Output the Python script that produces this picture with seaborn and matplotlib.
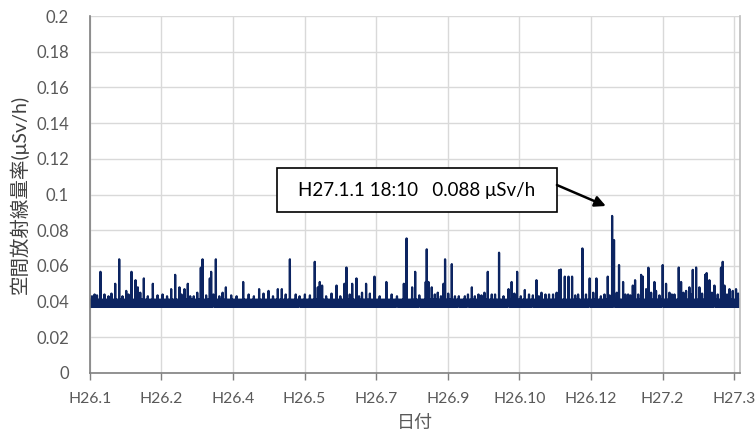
import numpy as np
import pandas as pd
import matplotlib
matplotlib.use('Agg')
import matplotlib.pyplot as plt
import matplotlib.patches as mpatches
import seaborn as sns

# 日付の範囲 (H26.1.1 ~ H27.3.31), 1時間ごと
start = pd.Timestamp('2014-01-01')
n_days = 454

# ふだんの値 (バンドの揺れ)
base_level = [0.039, 0.0405, 0.038, 0.040, 0.041, 0.0385, 0.0375, 0.040, 0.0405,
              0.038, 0.039, 0.041, 0.0395, 0.038, 0.037, 0.040, 0.0405]

# ピーク: H26.1.1 からの日数, 値
spike_day = [3.3, 7.4, 17.7, 20.5, 25.4, 29.1, 31.9, 33.5, 37.7, 44.0, 56.8, 59.6,
             62.6, 66.1, 68.4, 72.6, 77.5, 78.7, 83.8, 84.7, 88.0, 92.7, 95.0, 107.1,
             118.2, 124.8, 131.3, 134.1, 139.7, 143.8, 157.1, 159.2, 160.6, 162.2,
             172.3, 177.8, 179.2, 183.2, 186.2, 190.1, 192.9, 198.8, 207.1, 219.3,
             221.2, 225.1, 227.2, 234.6, 235.3, 236.5, 238.8, 243.0, 247.0, 248.1,
             252.8, 257.7, 261.9, 266.8, 271.4, 275.6, 277.9, 280.7, 285.8, 292.4,
             294.6, 298.4, 303.8, 311.9, 315.4, 320.7, 323.5, 327.7, 328.9, 331.7,
             334.3, 336.8, 341.0, 344.0, 349.1, 353.8, 361.7, 364.75, 366.1, 369.6,
             372.4, 375.9, 379.2, 380.8, 385.0, 386.2, 388.5, 390.1, 394.3, 395.4,
             400.1, 402.4, 404.8, 408.3, 411.3, 412.9, 416.4, 418.7, 421.1, 423.4,
             425.7, 429.7, 430.8, 432.7, 436.2, 438.5, 440.8, 442.0, 443.2, 446.7,
             449.0, 451.3]
spike_val = [0.044, 0.0567, 0.050, 0.0637, 0.046, 0.0567, 0.052, 0.048, 0.053, 0.050, 0.047, 0.055,
             0.048, 0.047, 0.050, 0.043, 0.059, 0.0637, 0.053, 0.0567, 0.0637, 0.045, 0.048, 0.051,
             0.047, 0.046, 0.047, 0.047, 0.0637, 0.044, 0.0623, 0.048, 0.051, 0.049,
             0.049, 0.050, 0.0591, 0.050, 0.053, 0.045, 0.050, 0.054, 0.051, 0.050,
             0.0754, 0.048, 0.0567, 0.051, 0.0693, 0.051, 0.048, 0.045, 0.050, 0.0637,
             0.061, 0.043, 0.043, 0.048, 0.044, 0.045, 0.0567, 0.044, 0.0674, 0.047,
             0.051, 0.0567, 0.0465, 0.052, 0.045, 0.044, 0.044, 0.0577, 0.058, 0.054,
             0.054, 0.054, 0.044, 0.0698, 0.053, 0.053, 0.054, 0.088, 0.0745, 0.0605,
             0.051, 0.044, 0.049, 0.052, 0.055, 0.054, 0.047, 0.059, 0.051, 0.046,
             0.0605, 0.050, 0.045, 0.044, 0.0591, 0.051, 0.046, 0.048, 0.0578, 0.0591,
             0.048, 0.055, 0.056, 0.052, 0.049, 0.044, 0.059, 0.0623, 0.049, 0.047,
             0.046, 0.047]

# 小さな上昇 (日数, 値)
bump_day = [1.5, 5.0, 10.2, 13.0, 15.1, 22.8, 27.0, 35.2, 40.5, 47.3, 50.8, 53.9,
            64.0, 70.1, 75.0, 81.2, 86.3, 90.4, 98.7, 102.5, 110.9, 114.6, 121.3,
            127.9, 136.8, 146.5, 150.2, 153.7, 165.0, 168.8, 174.9, 181.5, 188.0,
            195.6, 202.4, 210.8, 214.5, 230.1, 240.9, 245.2, 250.3, 255.0, 264.1,
            268.9, 273.5, 283.0, 288.9, 296.5, 301.0, 306.7, 309.4, 313.6, 318.2,
            326.0, 339.0, 346.5, 351.6, 356.9, 359.4, 363.0, 368.0, 374.0, 377.5,
            383.0, 392.0, 397.8, 406.5, 414.6, 420.0, 427.6, 434.5, 445.0, 452.8]
bump_val = [0.043, 0.0435, 0.044, 0.043, 0.0445, 0.043, 0.044, 0.045, 0.043, 0.0435, 0.044, 0.043,
            0.044, 0.043, 0.045, 0.0435, 0.044, 0.043, 0.0435, 0.043, 0.044, 0.043, 0.0445,
            0.043, 0.044, 0.043, 0.044, 0.0435, 0.043, 0.0445, 0.043, 0.044, 0.043,
            0.0445, 0.043, 0.044, 0.043, 0.0435, 0.044, 0.043, 0.0445, 0.043, 0.044,
            0.043, 0.0435, 0.044, 0.043, 0.0445, 0.043, 0.044, 0.0435, 0.043, 0.044,
            0.045, 0.0435, 0.044, 0.045, 0.043, 0.044, 0.0435, 0.045, 0.044, 0.0435,
            0.044, 0.045, 0.0435, 0.044, 0.045, 0.044, 0.0445, 0.045, 0.044, 0.0445]

tick_dates = pd.date_range(start, periods=10, freq='50D')

# 時系列を作る
times = pd.date_range(start, periods=n_days * 24, freq='h')
rate = np.resize(np.array(base_level), len(times))
for d, v in zip(bump_day + spike_day, bump_val + spike_val):
    rate[int(round(d * 24))] = v
df = pd.DataFrame({'time': times, 'rate': rate})

sns.set_theme(style='whitegrid')
plt.rcParams['font.family'] = ['Lato', 'Noto Sans CJK JP', 'DejaVu Sans']

fig, ax = plt.subplots(figsize=(7.55, 4.34), dpi=100)
fig.subplots_adjust(left=0.119, right=0.980, bottom=0.1406, top=0.963)

sns.lineplot(data=df, x='time', y='rate', ax=ax, color='#0c2461',
             linewidth=1.6, estimator=None)

ax.set_xlim(start, start + pd.Timedelta(days=n_days))
ax.set_ylim(0, 0.2)
yt = np.round(np.arange(0, 0.201, 0.02), 2)
ax.set_yticks(yt)
ax.set_yticklabels([f'{v:g}' for v in yt])
ax.set_xticks(tick_dates)
ax.set_xticklabels([f'H{d.year - 1988}.{d.month}' for d in tick_dates])

ax.grid(True, color='#d9d9d9', linewidth=1.0)
ax.tick_params(axis='both', colors='#595959', labelsize=12)
ax.tick_params(axis='x', bottom=True, length=5, width=1, color='#7f7f7f', pad=9,
               labelsize=11.3)
ax.tick_params(axis='y', left=False, pad=9)

for s in ['left', 'bottom']:
    ax.spines[s].set_color('#7f7f7f')
    ax.spines[s].set_linewidth(1.2)
ax.spines['right'].set_color('#bfbfbf')
ax.spines['top'].set_visible(False)

ax.set_xlabel('日付', fontsize=13, color='#595959', labelpad=6)
ax.set_ylabel('空間放射線量率(μSv/h)', fontsize=14, color='#404040', labelpad=5)

# 注記
box = mpatches.Rectangle((0.2877, 0.451), 0.4308, 0.123, transform=ax.transAxes,
                         facecolor='white', edgecolor='black', linewidth=1.2, zorder=5)
ax.add_patch(box)
ax.text(0.503, 0.5126, 'H27.1.1 18:10   0.088 μSv/h', transform=ax.transAxes,
        ha='center', va='center', fontsize=13.5, color='black', zorder=6)
ax.annotate('', xy=(0.7938, 0.4678), xycoords='axes fraction',
            xytext=(0.7185, 0.5266), textcoords='axes fraction',
            arrowprops=dict(arrowstyle='-|>', color='black', lw=1.8,
                            mutation_scale=16, shrinkA=0, shrinkB=0), zorder=6)

fig.savefig('out.png', dpi=100)
